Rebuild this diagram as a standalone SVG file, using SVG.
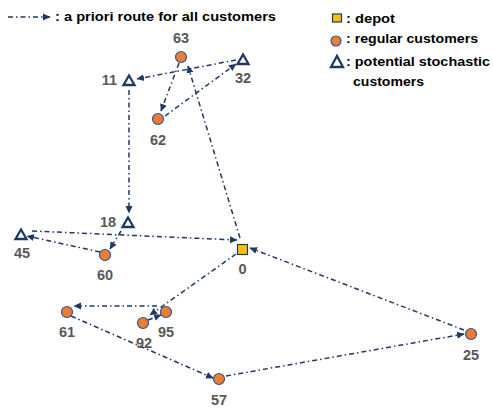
<svg xmlns="http://www.w3.org/2000/svg" width="493" height="410" viewBox="0 0 493 410">
<defs>
<marker id="ah" markerUnits="userSpaceOnUse" markerWidth="8" markerHeight="8" viewBox="0 0 8 8" refX="7" refY="4" orient="auto">
<path d="M0,0.5 L7.5,4 L0,7.5 Z" fill="#1F3864"/>
</marker>
<style>
.rt{fill:none;stroke:#1F3864;stroke-width:1.5;stroke-dasharray:5 3 1.5 3;marker-end:url(#ah)}
.cu{fill:#ED7D31;stroke:#2F5597;stroke-width:1.2}
.st{fill:#fff;stroke:#1F3864;stroke-width:2.3;stroke-linejoin:miter}
.dp{fill:#FFC000;stroke:#1F3864;stroke-width:1.2}
.lb{font-family:"Liberation Sans",Arial,sans-serif;font-weight:bold;font-size:14.5px;fill:#595959;text-anchor:middle}
.lg{font-family:"Liberation Sans",Arial,sans-serif;font-weight:bold;font-size:13.5px;fill:#000}
</style>
</defs>
<rect width="493" height="410" fill="#fff"/>
<g id="legend">
<line class="rt" x1="8" y1="17" x2="50" y2="17"/>
<text class="lg" x="55" y="21" textLength="221" lengthAdjust="spacingAndGlyphs">: a priori route for all customers</text>
<rect class="dp" x="332.5" y="14" width="9" height="8"/>
<text class="lg" x="346" y="23" textLength="49" lengthAdjust="spacingAndGlyphs">: depot</text>
<circle class="cu" cx="336" cy="41" r="5"/>
<text class="lg" x="346" y="43" textLength="132" lengthAdjust="spacingAndGlyphs">: regular customers</text>
<polygon class="st" points="331,67 343,67 337,56"/>
<text class="lg" x="346" y="66" textLength="144" lengthAdjust="spacingAndGlyphs">: potential stochastic</text>
<text class="lg" x="353" y="86" textLength="71" lengthAdjust="spacingAndGlyphs">customers</text>
</g>
<g id="connectors">
<line class="rt" x1="240" y1="238" x2="188" y2="66"/>
<line class="rt" x1="179" y1="63" x2="161" y2="111"/>
<line class="rt" x1="165" y1="116" x2="236" y2="64"/>
<line class="rt" x1="236" y1="60" x2="137" y2="79"/>
<line class="rt" x1="129" y1="90" x2="129" y2="213"/>
<line class="rt" x1="121" y1="231" x2="110" y2="249"/>
<line class="rt" x1="100" y1="252" x2="27" y2="236"/>
<line class="rt" x1="32" y1="231" x2="237" y2="240"/>
<line class="rt" x1="236" y1="254" x2="150" y2="315"/>
<line class="rt" x1="148" y1="320" x2="161" y2="315"/>
<line class="rt" x1="157" y1="306" x2="74" y2="306"/>
<line class="rt" x1="71" y1="316" x2="213" y2="378"/>
<line class="rt" x1="226" y1="376" x2="464" y2="334"/>
<line class="rt" x1="464" y1="330" x2="250" y2="248"/>
</g>
<g id="n0"><rect class="dp" x="237.5" y="244.5" width="10" height="10"/><text class="lb" x="242.5" y="274">0</text></g>
<g id="n63"><circle class="cu" cx="181" cy="57" r="5.5"/><text class="lb" x="181" y="43">63</text></g>
<g id="n32"><polygon class="st" points="237.5,64 248.5,64 243,54.5"/><text class="lb" x="243" y="83">32</text></g>
<g id="n11"><polygon class="st" points="123.5,85 134.5,85 129,75.5"/><text class="lb" x="109.5" y="85">11</text></g>
<g id="n62"><circle class="cu" cx="158" cy="119" r="5.5"/><text class="lb" x="158" y="145">62</text></g>
<g id="n18"><polygon class="st" points="122.5,227 133.5,227 128,217.5"/><text class="lb" x="108" y="227">18</text></g>
<g id="n45"><polygon class="st" points="15.5,239 26.5,239 21,229.5"/><text class="lb" x="22" y="258">45</text></g>
<g id="n60"><circle class="cu" cx="105" cy="255" r="5.5"/><text class="lb" x="105" y="280">60</text></g>
<g id="n61"><circle class="cu" cx="67" cy="312" r="5.5"/><text class="lb" x="67" y="337">61</text></g>
<g id="n95"><circle class="cu" cx="166" cy="312" r="5.5"/><text class="lb" x="166" y="337">95</text></g>
<g id="n92"><circle class="cu" cx="143" cy="323" r="5.5"/><text class="lb" x="144" y="348">92</text></g>
<g id="n25"><circle class="cu" cx="471" cy="334" r="5.5"/><text class="lb" x="471" y="360">25</text></g>
<g id="n57"><circle class="cu" cx="219" cy="379" r="5.5"/><text class="lb" x="219" y="405">57</text></g>
</svg>
